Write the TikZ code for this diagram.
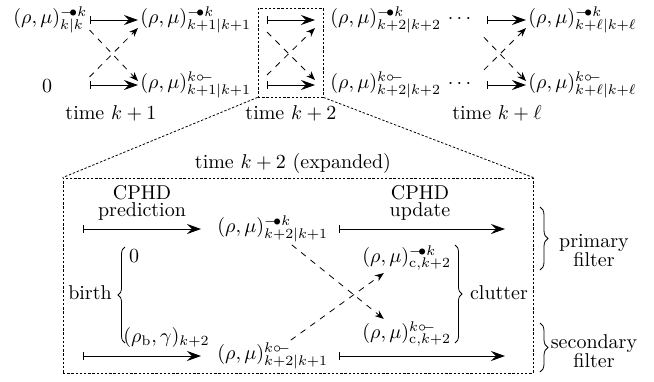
\documentclass[tikz,border=0pt]{standalone}
\usepackage{amsmath,amssymb}
\usetikzlibrary{arrows.meta,decorations.pathreplacing}

\newcommand{\fdot}{\relbar\mkern-4mu\bullet}
\newcommand{\hdot}{\circ\mkern-4mu\relbar}

\tikzset{
  mlbl/.style={anchor=west,inner sep=1pt},
  flow/.style={line width=0.5pt,{Bar[width=4pt]}-{Stealth[length=7pt,width=5pt,inset=2.5pt]}},
  cross/.style={dashed,-{Stealth[length=4.5pt,width=3.5pt]}},
  zoomed/.style={draw,dash pattern=on 1.2pt off 0.9pt,inner sep=0pt},
  zoomline/.style={dash pattern=on 1.2pt off 0.9pt},
  brc/.style={decorate,decoration={brace,amplitude=3.5pt}}
}

\begin{document}
\begin{tikzpicture}[x=0.5pt,y=-0.5pt]
\useasboundingbox (0,0) rectangle (654,381);

% time steps along the top
\node[mlbl] (a0) at (11,20) {$(\rho,\mu)^{\fdot k}_{k|k}$};
\node (z0) at (47,86) {$0$};
\node[mlbl] (a1) at (138,20) {$(\rho,\mu)^{\fdot k}_{k+1|k+1}$};
\node[mlbl] (b1) at (138,85) {$(\rho,\mu)^{k\hdot}_{k+1|k+1}$};
\node[mlbl] (a2) at (328,20) {$(\rho,\mu)^{\fdot k}_{k+2|k+2}\,\cdots$};
\node[mlbl] (b2) at (328,85) {$(\rho,\mu)^{k\hdot}_{k+2|k+2}\,\cdots$};
\node[mlbl] (a3) at (526,20) {$(\rho,\mu)^{\fdot k}_{k+\ell|k+\ell}$};
\node[mlbl] (b3) at (526,85) {$(\rho,\mu)^{k\hdot}_{k+\ell|k+\ell}$};

\draw[flow] (a0.east) -- (a1.west);
\draw[flow] (a0.east |- b1.west) -- (b1.west);
\draw[cross] ([yshift=-5pt]a0.east) -- ([yshift=2pt]b1.west);
\draw[cross] ([yshift=4pt]a0.east |- b1.west) -- ([yshift=-4pt]a1.west);

\draw[flow,shorten <=5pt] (a2.east) -- (a3.west);
\draw[flow,shorten <=5pt] (b2.east) -- (b3.west);
\draw[cross,shorten <=5pt] ([yshift=-5pt]a2.east) -- ([yshift=2pt]b3.west);
\draw[cross,shorten <=5pt] ([yshift=4pt]b2.east) -- ([yshift=-4pt]a3.west);

% the step that gets expanded
\node[zoomed,minimum width=32.5pt,minimum height=44.5pt] (zb) at (290.5,52.5) {};
\coordinate (m1) at (267,20);
\coordinate (m2) at (315,20);
\coordinate (m3) at (267,85);
\coordinate (m4) at (315,85);
\draw[flow] (m1) -- (m2);
\draw[flow] (m3) -- (m4);
\draw[cross] ([yshift=-6pt]m1) -- ([yshift=2.5pt]m4);
\draw[cross] ([yshift=5pt]m3) -- ([yshift=-4pt]m2);

\node (t1) at (111,113) {time $k+1$};
\node (t2) at (291,113) {time $k+2$};
\node (t3) at (497,113) {time $k+\ell$};

% expanded view
\node[zoomed,minimum width=235pt,minimum height=97.5pt] (big) at (298,275.5) {};
\draw[zoomline] (zb.south west) -- (big.north west);
\draw[zoomline] (zb.south east) -- (big.north east);
\node (tx) at (293,163) {time $k+2$ (expanded)};

\node[align=center] (pred) at (142,203) {CPHD\\[-3.5pt]prediction};
\node[align=center] (upd) at (420,203) {CPHD\\[-3.5pt]update};

\node[mlbl] (p1) at (215,229) {$(\rho,\mu)^{\fdot k}_{k+2|k+1}$};
\node[mlbl] (p2) at (215,356) {$(\rho,\mu)^{k\hdot}_{k+2|k+1}$};
\node[mlbl] (c1) at (360,258) {$(\rho,\mu)^{\fdot k}_{\mathrm{c},k+2}$};
\node[mlbl] (c2) at (360,334) {$(\rho,\mu)^{k\hdot}_{\mathrm{c},k+2}$};

\coordinate (pin) at (83,229);
\coordinate (sin) at (83,356);
\coordinate (pout) at (505,229);
\coordinate (sout) at (505,356);
\draw[flow,shorten >=7pt] (pin) -- (p1.west);
\draw[flow,shorten >=7pt] (sin) -- (p2.west);
\draw[flow,shorten <=4pt] (p1.east) -- (pout);
\draw[flow,shorten <=4pt] (p2.east) -- (sout);

\draw[cross] ([xshift=9.5pt]p1.south) -- ([xshift=-11.5pt]c2.north);
\draw[cross] ([xshift=9pt]p2.north) -- ([xshift=-11.5pt]c1.south);

% birth and clutter
\node (birth) at (90,293) {birth};
\draw[brc] (125,343) -- (125,247);
\node (bz) at (134,256) {$0$};
\node[mlbl] (bg) at (121,337) {$(\rho_{\mathrm{b}},\gamma)_{k+2}$};

\draw[brc] (455,245) -- (455,343);
\node (clut) at (499,293) {clutter};

\draw[brc,decoration={amplitude=4pt}] (540,207) -- (540,270);
\node[align=center] (prim) at (594,251) {primary\\[-2.5pt]filter};
\draw[brc,decoration={amplitude=4pt}] (540,323) -- (540,372);
\node[align=center] (sec) at (594,351) {secondary\\[-2.5pt]filter};
\end{tikzpicture}
\end{document}
